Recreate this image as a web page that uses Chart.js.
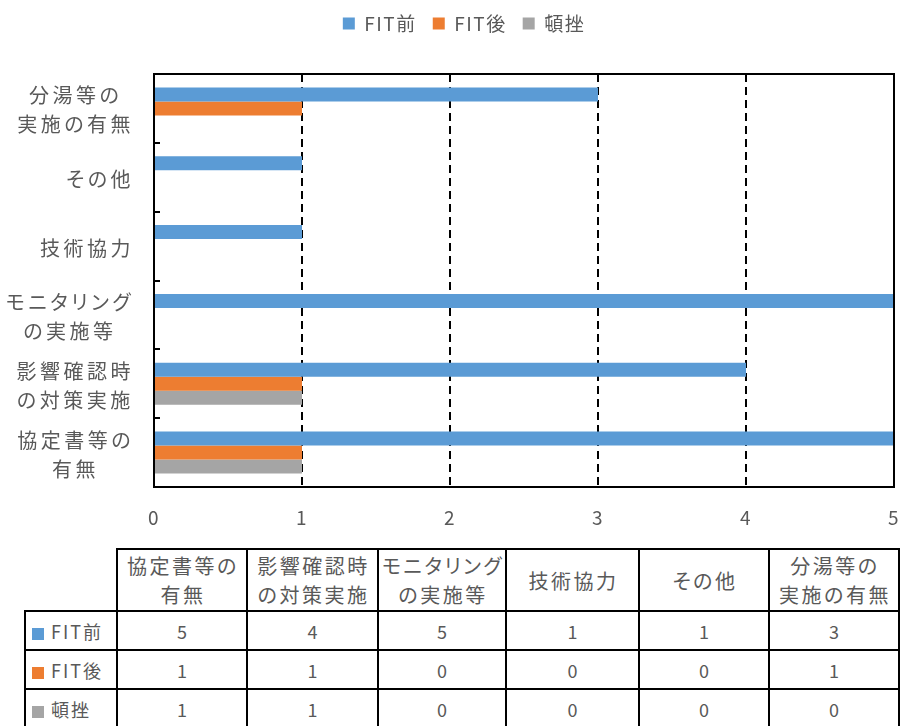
<!DOCTYPE html>
<html><head><meta charset="utf-8">
<script src="https://cdn.jsdelivr.net/npm/chart.js@4/dist/chart.umd.min.js"></script>
<style>
html,body{margin:0;padding:0;background:#fff;}
body{width:900px;height:726px;overflow:hidden;position:relative;font-family:"Noto Sans CJK JP",sans-serif;color:#595959;}
#wrap{position:absolute;left:0;top:0;width:900px;height:540px;}
#c{display:block;}
#tbl{position:absolute;left:24px;top:548px;border-collapse:collapse;table-layout:fixed;width:874px;color:#595959;}
#tbl td{border:2px solid #000;text-align:center;padding:0;white-space:nowrap;}
#tbl td.blank{border-top:none;border-left:none;}
#tbl tr.head td{height:60px;font-size:20px;letter-spacing:2.5px;line-height:29px;padding-left:2px;font-feature-settings:"palt";}
#tbl tr.row td{height:37px;font-size:18px;}
#tbl td.name{text-align:left;padding-left:6px;font-size:19px;letter-spacing:2px;}
.sw{display:inline-block;width:12px;height:12px;margin-right:7px;vertical-align:-1px;}
.ylab{position:absolute;right:766px;text-align:center;font-size:20px;letter-spacing:3.5px;line-height:29px;white-space:nowrap;font-feature-settings:"palt";transform:translateY(-50%);color:#595959;}
</style></head>
<body>
<div id="wrap"><canvas id="c" width="900" height="540"></canvas></div>
<div id="ylabels"></div>
<table id="tbl"><colgroup id="cols"></colgroup><tbody id="tb"></tbody></table>
<script>
// ---- data ----
const categories = ['協定書等の有無','影響確認時の対策実施','モニタリングの実施等','技術協力','その他','分湯等の実施の有無'];
const categoryLines = [['協定書等の','有無'],['影響確認時','の対策実施'],['モニタリング','の実施等'],['技術協力'],['その他'],['分湯等の','実施の有無']];
const seriesNames = ['FIT前','FIT後','頓挫'];
const fitBefore = [5,4,5,1,1,3];
const fitAfter = [1,1,0,0,0,1];
const tonza = [1,1,0,0,0,0];
const xTickValues = [0,1,2,3,4,5];
const seriesColors = ['#5B9BD5','#ED7D31','#A5A5A5'];
const seriesValues = [fitBefore, fitAfter, tonza];

// ---- table ----
const cols = document.getElementById('cols');
[92,130,131,128,133,130,130].forEach(w=>{const c=document.createElement('col');c.style.width=w+'px';cols.appendChild(c);});
const tb = document.getElementById('tb');
let hr = document.createElement('tr'); hr.className='head';
let td0 = document.createElement('td'); td0.className='blank'; hr.appendChild(td0);
categoryLines.forEach(lines=>{const td=document.createElement('td');td.innerHTML=lines.join('<br>');hr.appendChild(td);});
tb.appendChild(hr);
seriesNames.forEach((name,si)=>{
  const tr=document.createElement('tr'); tr.className='row';
  const n=document.createElement('td'); n.className='name';
  const sw=document.createElement('span'); sw.className='sw'; sw.style.background=seriesColors[si];
  n.appendChild(sw); n.appendChild(document.createTextNode(name)); tr.appendChild(n);
  seriesValues[si].forEach(v=>{const td=document.createElement('td');td.textContent=v;tr.appendChild(td);});
  tb.appendChild(tr);
});

// ---- chart ----
const chartLabels = categories.slice().reverse();
const chartLines = categoryLines.slice().reverse();

const spacing = {
  id:'spacing',
  beforeInit(chart){
    const fit = chart.legend.fit;
    chart.legend.fit = function(){ fit.call(this); this.height = 76; };
  },
  beforeUpdate(chart){ chart.ctx.letterSpacing='1.5px'; },
  beforeDraw(chart){ chart.ctx.letterSpacing='1.5px'; }
};

const decor = {
  id:'decor',
  afterDatasetsDraw(chart){
    const ctx=chart.ctx, a=chart.chartArea, y=chart.scales.y;
    ctx.save();
    ctx.strokeStyle='#000'; ctx.lineWidth=2; ctx.setLineDash([]);
    ctx.strokeRect(a.left, a.top, a.right-a.left, a.bottom-a.top);
    ctx.beginPath();
    for(let i=1;i<chartLabels.length;i++){
      const yy = (y.getPixelForValue(i-1)+y.getPixelForValue(i))/2;
      ctx.moveTo(a.left, Math.round(yy)); ctx.lineTo(a.left+6, Math.round(yy));
    }
    ctx.stroke();
    ctx.restore();
  },
  afterDraw(chart){
    const y=chart.scales.y;
    const host=document.getElementById('ylabels');
    host.innerHTML='';
    chartLines.forEach((lines,i)=>{
      const d=document.createElement('div'); d.className='ylab';
      d.innerHTML=lines.join('<br>');
      d.style.top=(y.getPixelForValue(i)+1)+'px';
      host.appendChild(d);
    });
  }
};

new Chart(document.getElementById('c'), {
  type:'bar',
  data:{
    labels: chartLabels,
    datasets: seriesNames.map((n,i)=>({
      label:n,
      data: seriesValues[i].slice().reverse(),
      backgroundColor: seriesColors[i],
      borderWidth:0,
      categoryPercentage:0.61,
      barPercentage:1.0
    }))
  },
  options:{
    indexAxis:'y',
    responsive:false,
    animation:false,
    layout:{padding:{left:34,right:6,top:-2,bottom:11}},
    plugins:{
      legend:{
        position:'top',
        labels:{boxWidth:12,boxHeight:12,padding:16,color:'#595959',font:{family:'"Noto Sans CJK JP"',size:19}}
      },
      tooltip:{enabled:false}
    },
    scales:{
      x:{
        min:0,max:5,
        afterBuildTicks(s){ s.ticks = xTickValues.map(v=>({value:v})); },
        afterFit(s){ s.height = 42; s.paddingLeft = 0; s.paddingRight = 0; },
        ticks:{color:'#595959',padding:19,maxRotation:0,minRotation:0,font:{family:'"Noto Sans CJK JP"',size:19}},
        grid:{color:'#000',lineWidth:2,drawTicks:false},
        border:{display:false,dash:[8,5]}
      },
      y:{
        afterFit(s){ s.width = 120; },
        ticks:{display:false},
        grid:{display:false},
        border:{display:false}
      }
    }
  },
  plugins:[spacing, decor]
});
</script>
</body></html>
